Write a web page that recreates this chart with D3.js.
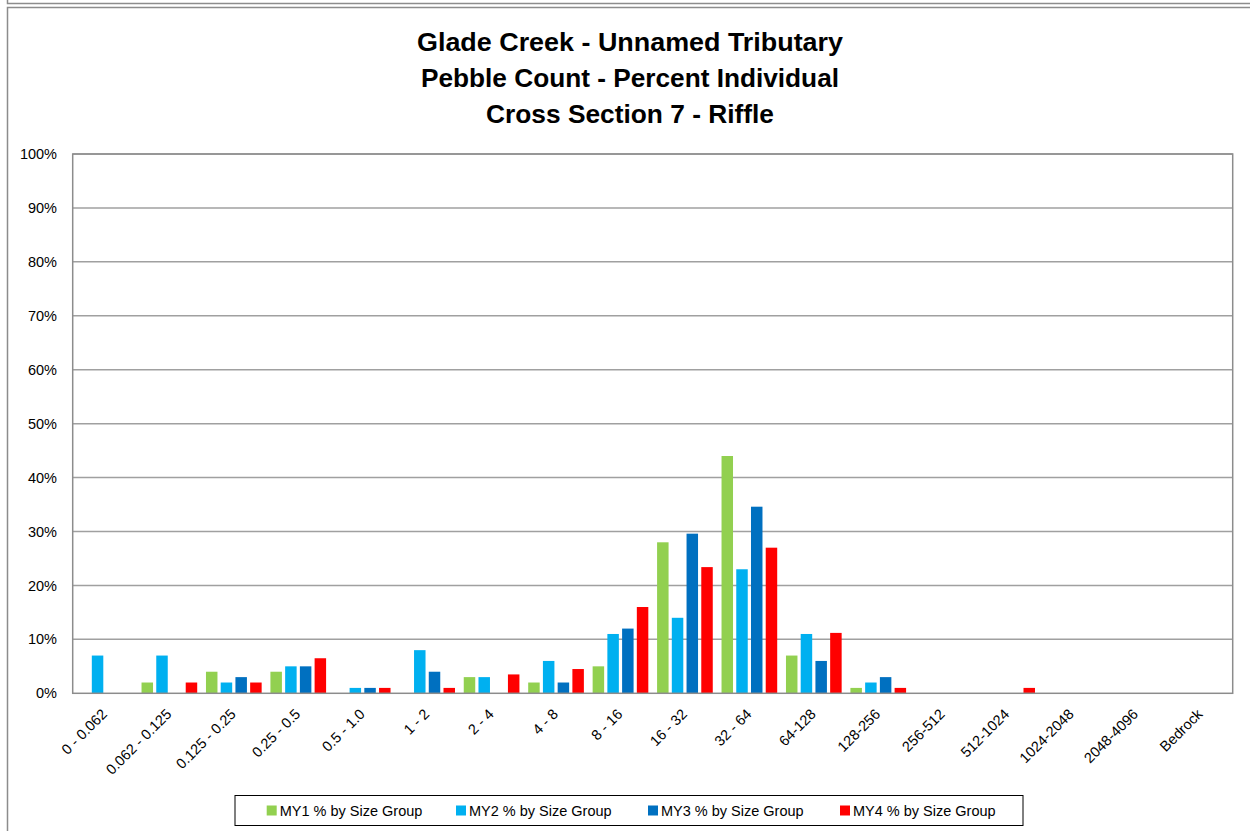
<!DOCTYPE html>
<html><head><meta charset="utf-8">
<script src="https://cdn.jsdelivr.net/npm/d3@7"></script>
<style>
html,body{margin:0;padding:0;background:#fff;}
svg{display:block;font-family:"Liberation Sans",Arial,sans-serif;}
</style></head>
<body>
<svg id="chart" width="1250" height="831"></svg>
<script>
const titleLines = ["Glade Creek - Unnamed Tributary","Pebble Count - Percent Individual","Cross Section 7 - Riffle"];
const categories = ["0 - 0.062","0.062 - 0.125","0.125 - 0.25","0.25 - 0.5","0.5 - 1.0","1 - 2","2 - 4","4 - 8","8 - 16","16 - 32","32 - 64","64-128","128-256","256-512","512-1024","1024-2048","2048-4096","Bedrock"];
const seriesNames = ["MY1 % by Size Group","MY2 % by Size Group","MY3 % by Size Group","MY4 % by Size Group"];
const seriesColors = ["#92D050","#00B0F0","#0070C0","#FF0000"];
const my1 = [0,2,4,4,0,0,3,2,5,28,44,7,1,0,0,0,0,0];
const my2 = [7,7,2,5,1,8,3,6,11,14,23,11,2,0,0,0,0,0];
const my3 = [0,0,3,5,1,4,0,2,12,29.6,34.6,6,3,0,0,0,0,0];
const my4 = [0,2,2,6.5,1,1,3.5,4.5,16,23.4,27,11.2,1,0,1,0,0,0];
const yTicks = [0,10,20,30,40,50,60,70,80,90,100];

const seriesValues = [my1,my2,my3,my4];
const svg = d3.select("#chart");

// outer frames
svg.append("path").attr("d","M7.5,0 V3.5 H1250").attr("fill","none").attr("stroke","#8c8c8c").attr("stroke-width",1.5);
svg.append("path").attr("d","M7.5,831 V7.5 H1250").attr("fill","none").attr("stroke","#8c8c8c").attr("stroke-width",1.5);

const plot = {left:72.7, right:1232.7, top:154, bottom:693.3};
const x0 = d3.scaleBand().domain(categories).range([plot.left, plot.right]).paddingInner(0).paddingOuter(0);
const bw = x0.bandwidth();
const x1 = d3.scaleBand().domain(seriesNames).range([bw*0.068, bw*0.932]).paddingInner(0.22).paddingOuter(0);
const y = d3.scaleLinear().domain([0,100]).range([plot.bottom, plot.top]);

// title
const titleW = [426, 418, 288];
const titleY = [51, 87, 123];
titleLines.forEach((t,i)=>{
  svg.append("text").attr("x",630).attr("y",titleY[i]).attr("text-anchor","middle")
    .attr("font-size",25.5).attr("font-weight","bold").attr("fill","#000")
    .attr("textLength",titleW[i]).attr("lengthAdjust","spacingAndGlyphs").text(t);
});

// gridlines
svg.append("g").selectAll("line").data(yTicks.filter(d=>d>0)).join("line")
  .attr("x1",plot.left).attr("x2",plot.right).attr("y1",d=>y(d)).attr("y2",d=>y(d))
  .attr("stroke","#a0a0a0").attr("stroke-width",1.5);

// y labels
svg.append("g").selectAll("text").data(yTicks).join("text")
  .attr("x",57).attr("y",d=>y(d)).attr("dy","0.35em").attr("text-anchor","end")
  .attr("font-size",14.5).attr("fill","#000").text(d=>d+"%");

// bars
const rows = categories.map((c,i)=>({cat:c, vals:seriesNames.map((s,j)=>({s, j, v:seriesValues[j][i]}))}));
svg.append("g").selectAll("g").data(rows).join("g")
  .attr("transform",d=>`translate(${x0(d.cat)},0)`)
  .selectAll("rect").data(d=>d.vals.filter(v=>v.v>0)).join("rect")
  .attr("x",d=>x1(d.s)).attr("width",x1.bandwidth())
  .attr("y",d=>y(d.v)).attr("height",d=>y(0)-y(d.v))
  .attr("fill",d=>seriesColors[d.j]);

// plot border
svg.append("rect").attr("x",plot.left).attr("y",plot.top).attr("width",plot.right-plot.left).attr("height",plot.bottom-plot.top)
  .attr("fill","none").attr("stroke","#8c8c8c").attr("stroke-width",1.5);

// x labels
svg.append("g").selectAll("text").data(categories).join("text")
  .attr("transform",d=>`translate(${x0(d)+bw/2+3},${715}) rotate(-45)`)
  .attr("text-anchor","end").attr("font-size",14.5).attr("fill","#000").text(d=>d);

// legend
const lg = svg.append("g");
lg.append("rect").attr("x",235).attr("y",795.5).attr("width",788).attr("height",30)
  .attr("fill","#fff").attr("stroke","#000").attr("stroke-width",1);
const legendX = [266.7,456,648,840];
seriesNames.forEach((s,i)=>{
  lg.append("rect").attr("x",legendX[i]).attr("y",805.5).attr("width",10).attr("height",10).attr("fill",seriesColors[i]);
  lg.append("text").attr("x",legendX[i]+13).attr("y",815.5).attr("font-size",14.5).attr("fill","#000").text(s);
});
</script>
</body></html>
